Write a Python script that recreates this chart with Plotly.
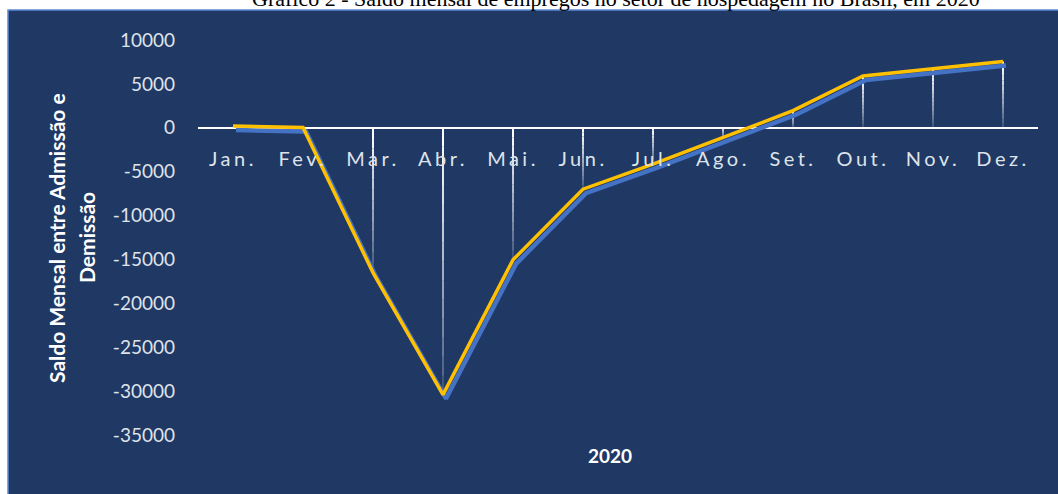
import plotly.graph_objects as go

months = ["Jan.", "Fev.", "Mar.", "Abr.", "Mai.", "Jun.", "Jul.", "Ago.", "Set.", "Out.", "Nov.", "Dez."]
saldo = [200, 30, -16500, -30400, -15050, -7000, -4150, -1150, 1950, 5900, 6700, 7550]
y_ticks = [10000, 5000, 0, -5000, -10000, -15000, -20000, -25000, -30000, -35000]
title_text = "Gráfico 2 - Saldo mensal de empregos no setor de hospedagem no Brasil, em 2020"
y_title_1 = "Saldo Mensal entre Admissão e"
y_title_2 = "Demissão"
x_title = "2020"

NAVY = "#203864"
Y_MIN, Y_MAX = -35000, 10000
W, H = 1058, 494
ML, MR, MT, MB = 198, 20, 40, 59
PW = W - ML - MR
PH = H - MT - MB

# pixel offsets for the blue shadow line
SDX, SDY = 3, 4
cat_px = PW / len(months)
unit_px = PH / (Y_MAX - Y_MIN)
x_rng = [-0.5, len(months) - 0.5]
x_rng_sh = [x_rng[0] - SDX / cat_px, x_rng[1] - SDX / cat_px]
y_rng = [Y_MIN, Y_MAX]
y_rng_sh = [Y_MIN + SDY / unit_px, Y_MAX + SDY / unit_px]

fig = go.Figure()

# drop lines with a vertical fade (bright at top, transparent at bottom)
N = 14
for k in range(N):
    xs, ys = [], []
    for m, v in zip(months, saldo):
        top, bot = max(v, 0), min(v, 0)
        a = top + (bot - top) * k / N
        b = top + (bot - top) * (k + 1) / N
        xs += [m, m, None]
        ys += [a, b, None]
    op = 0.97 * (1 - k / N) ** 0.8 + 0.04
    fig.add_trace(go.Scatter(x=xs, y=ys, mode="lines",
                             line=dict(color="white", width=2),
                             opacity=min(op, 1), hoverinfo="skip", showlegend=False,
                             xaxis="x", yaxis="y"))

# blue shadow line
fig.add_trace(go.Scatter(x=months, y=saldo, mode="lines",
                         line=dict(color="#4472C4", width=4.5),
                         showlegend=False, xaxis="x2", yaxis="y2"))
# main gold line
fig.add_trace(go.Scatter(x=months, y=saldo, mode="lines",
                         line=dict(color="#FFC000", width=3.5),
                         showlegend=False, xaxis="x3", yaxis="y3"))

zero_pos = (0 - Y_MIN) / (Y_MAX - Y_MIN)

tick_html = ['<span style="letter-spacing:3.5px">' + m + '</span>' for m in months]

fig.update_layout(
    width=W, height=H,
    margin=dict(l=ML, r=MR, t=MT, b=MB, pad=0),
    paper_bgcolor="white",
    plot_bgcolor="rgba(0,0,0,0)",
    showlegend=False,
    xaxis=dict(type="category", categoryorder="array", categoryarray=months,
               range=x_rng, anchor="free", position=zero_pos,
               showgrid=False, zeroline=False, showline=False, ticks="",
               tickmode="array", tickvals=months, ticktext=tick_html,
               tickfont=dict(family="Lato", size=20, color="#dfe3ea"),
               ticklabelstandoff=17),
    yaxis=dict(range=y_rng, tickmode="array", tickvals=y_ticks,
               ticktext=[str(t) for t in y_ticks],
               showgrid=False, zeroline=True, zerolinecolor="white",
               zerolinewidth=2, showline=False, ticks="",
               tickfont=dict(family="Lato", size=19, color="#dfe3ea"),
               ticklabelstandoff=22),
    xaxis2=dict(type="category", categoryorder="array", categoryarray=months,
                range=x_rng_sh, overlaying="x", anchor="y2", visible=False),
    yaxis2=dict(range=y_rng_sh, overlaying="y", anchor="x2", visible=False),
    xaxis3=dict(type="category", categoryorder="array", categoryarray=months,
                range=x_rng, overlaying="x", anchor="y3", visible=False),
    yaxis3=dict(range=y_rng, overlaying="y", anchor="x3", visible=False),
)

def px_x(p):
    return (p - ML) / PW

def px_y(p):
    return (H - MB - p) / PH

# navy chart area
fig.add_shape(type="rect", xref="paper", yref="paper",
              x0=px_x(8), x1=px_x(W + 20), y0=px_y(10), y1=px_y(H + 20),
              fillcolor=NAVY, line=dict(color="#5B8BD0", width=1.5),
              layer="below")

# title (partly cut at top of the page, as in the source)
fig.add_annotation(text=title_text, xref="paper", yref="paper",
                   x=px_x(616), y=px_y(13), xanchor="center", yanchor="bottom",
                   showarrow=False,
                   font=dict(family="Liberation Serif", size=22, color="black"))

# y-axis title (two lines)
fig.add_annotation(text="<b>" + y_title_1 + "</b>", xref="paper", yref="paper",
                   x=px_x(56), y=px_y(238), xanchor="center", yanchor="middle",
                   textangle=-90, showarrow=False,
                   font=dict(family="Lato", size=21, color="white"))
fig.add_annotation(text="<b>" + y_title_2 + "</b>", xref="paper", yref="paper",
                   x=px_x(86), y=px_y(238), xanchor="center", yanchor="middle",
                   textangle=-90, showarrow=False,
                   font=dict(family="Lato", size=21, color="white"))

# x-axis title
fig.add_annotation(text="<b>" + x_title + "</b>", xref="paper", yref="paper",
                   x=px_x(610), y=px_y(455), xanchor="center", yanchor="middle",
                   showarrow=False,
                   font=dict(family="Lato", size=19, color="white"))

fig.write_html("out.html")
